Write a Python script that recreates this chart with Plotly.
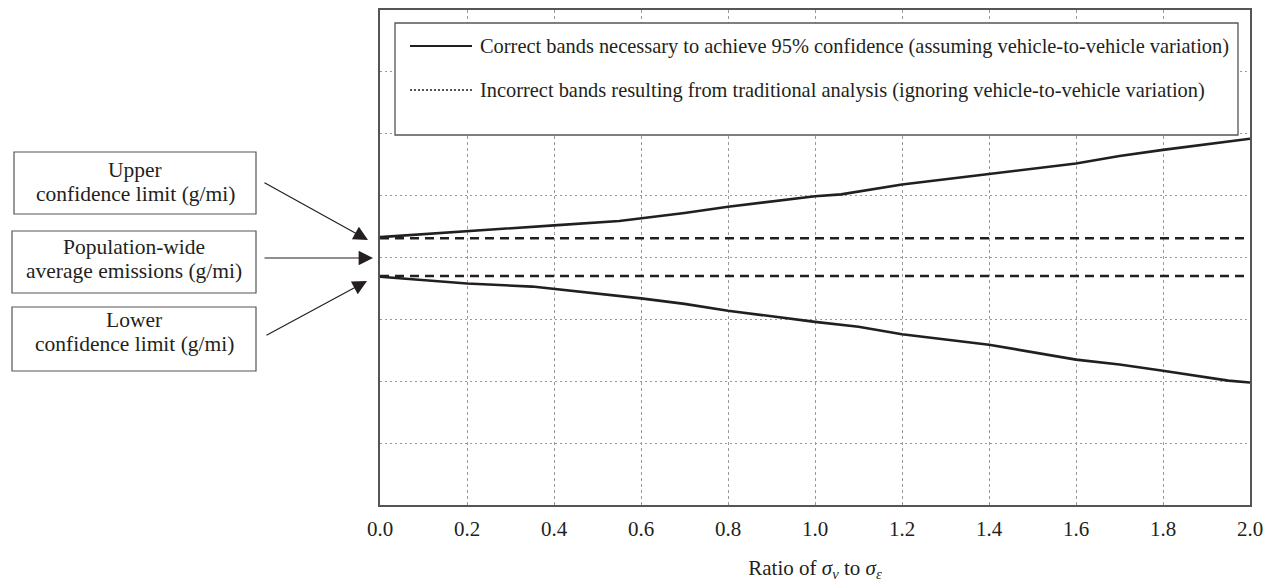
import plotly.graph_objects as go

# ---- data ----
upper_x = [0.0, 0.2, 0.4, 0.55, 0.7, 0.8, 1.0, 1.06, 1.2, 1.4, 1.6, 1.7, 1.8, 2.0]
upper_y = [4.33, 4.43, 4.52, 4.59, 4.72, 4.82, 4.99, 5.02, 5.18, 5.35, 5.52, 5.64, 5.74, 5.92]
lower_x = [0.0, 0.2, 0.35, 0.5, 0.6, 0.7, 0.8, 1.0, 1.1, 1.2, 1.4, 1.6, 1.7, 1.8, 1.95, 2.0]
lower_y = [3.69, 3.58, 3.53, 3.42, 3.34, 3.25, 3.14, 2.96, 2.88, 2.76, 2.59, 2.35, 2.27, 2.17, 2.01, 1.98]
trad_x = [0.0, 2.0]
trad_upper = [4.31, 4.31]
trad_lower = [3.70, 3.70]
x_ticks = [0.0, 0.2, 0.4, 0.6, 0.8, 1.0, 1.2, 1.4, 1.6, 1.8, 2.0]
x_tick_labels = ["0.0", "0.2", "0.4", "0.6", "0.8", "1.0", "1.2", "1.4", "1.6", "1.8", "2.0"]
legend_labels = [
    "Correct bands necessary to achieve 95% confidence (assuming vehicle-to-vehicle variation)",
    "Incorrect bands resulting from traditional analysis (ignoring vehicle-to-vehicle variation)",
]
box_labels = [
    ["Upper", "confidence limit (g/mi)"],
    ["Population-wide", "average emissions (g/mi)"],
    ["Lower", "confidence limit (g/mi)"],
]

FONT = "Liberation Serif"
INK = "#231f20"

W, H = 1270, 585
# plot area in page pixels: x 380..1250, y 10..505
L, T = 380, 10
PW, PH = 870, 495
R, B = W - L - PW, H - T - PH


def xp(px):
    return (px - L) / PW


def yp(py):
    return (T + PH - py) / PH


fig = go.Figure()
fig.add_trace(go.Scatter(x=upper_x, y=upper_y, mode="lines",
                         line=dict(color=INK, width=2.6), showlegend=False))
fig.add_trace(go.Scatter(x=lower_x, y=lower_y, mode="lines",
                         line=dict(color=INK, width=2.6), showlegend=False))
fig.add_trace(go.Scatter(x=trad_x, y=trad_upper, mode="lines",
                         line=dict(color=INK, width=2.6, dash="9px,6px"), showlegend=False))
fig.add_trace(go.Scatter(x=trad_x, y=trad_lower, mode="lines",
                         line=dict(color=INK, width=2.6, dash="9px,6px"), showlegend=False))

shapes = []
annotations = []

# legend box
shapes.append(dict(type="rect", xref="paper", yref="paper",
                   x0=xp(395), x1=xp(1238), y0=yp(135), y1=yp(23),
                   line=dict(color="#555", width=1.3), fillcolor="white", layer="above"))
shapes.append(dict(type="line", xref="paper", yref="paper",
                   x0=xp(410), x1=xp(472), y0=yp(46), y1=yp(46),
                   line=dict(color=INK, width=2.2), layer="above"))
shapes.append(dict(type="line", xref="paper", yref="paper",
                   x0=xp(410), x1=xp(472), y0=yp(90), y1=yp(90),
                   line=dict(color=INK, width=1.6, dash="2px,2px"), layer="above"))
for lbl, py in zip(legend_labels, [46, 90]):
    annotations.append(dict(text=lbl, xref="paper", yref="paper", x=xp(478), y=yp(py),
                            xanchor="left", yanchor="middle", showarrow=False,
                            font=dict(family=FONT, size=20.4, color=INK)))

# side label boxes
boxes = [(14, 256, 152, 214), (12, 256, 231, 293), (12, 256, 307, 371)]
line_y = [(170, 194), (247, 271), (320, 344)]
for (x0, x1, y0, y1), lines, ys in zip(boxes, box_labels, line_y):
    shapes.append(dict(type="rect", xref="paper", yref="paper",
                       x0=xp(x0), x1=xp(x1), y0=yp(y1), y1=yp(y0),
                       line=dict(color="#555", width=1.2)))
    for txt, ly in zip(lines, ys):
        annotations.append(dict(text=txt, xref="paper", yref="paper",
                                x=xp((x0 + x1) / 2), y=yp(ly),
                                xanchor="center", yanchor="middle", showarrow=False,
                                borderpad=0,
                                font=dict(family=FONT, size=21.5, color=INK)))

# arrows (tip, tail)
arrows = [((368, 240), (263, 182)), ((373, 258), (263, 258)), ((367, 281), (265, 336))]
for (tx, ty), (sx, sy) in arrows:
    annotations.append(dict(text="", xref="paper", yref="paper", x=xp(tx), y=yp(ty),
                            ax=sx - tx, ay=sy - ty, showarrow=True,
                            arrowhead=2, arrowsize=2.4, arrowwidth=1.2, arrowcolor=INK))

fig.update_layout(
    width=W, height=H,
    margin=dict(l=L, r=R, t=T, b=B, pad=0, autoexpand=False),
    plot_bgcolor="white", paper_bgcolor="white",
    font=dict(family=FONT, size=21, color=INK),
    shapes=shapes, annotations=annotations,
    showlegend=False,
)
fig.update_xaxes(
    range=[0, 2], tickvals=x_ticks, ticktext=x_tick_labels, automargin=False,
    showgrid=True, gridcolor="#9a9a9a", gridwidth=1, griddash="3px,3px",
    showline=True, linecolor="#555", linewidth=1.6, mirror=True,
    ticks="", zeroline=False, ticklabelstandoff=4, ticklabeloverflow="allow",
    tickfont=dict(family=FONT, size=21, color=INK),
    title=dict(text="Ratio of <i>σ</i><sub><i>v</i></sub> to <i>σ</i><sub><i>ε</i></sub>",
               font=dict(family=FONT, size=21, color=INK), standoff=20),
)
fig.update_yaxes(
    range=[0, 8], dtick=1, showticklabels=False, automargin=False,
    showgrid=True, gridcolor="#9a9a9a", gridwidth=1, griddash="2px,3px",
    showline=True, linecolor="#555", linewidth=1.6, mirror=True,
    ticks="", zeroline=False,
)

fig.write_html(
    "out.html",
    config={"displayModeBar": False},
    post_script="document.body.style.margin='0';document.body.style.overflow='hidden';",
)
